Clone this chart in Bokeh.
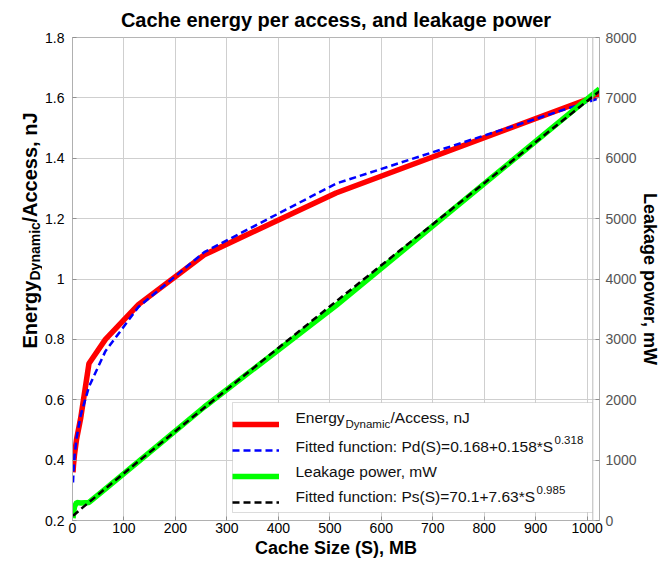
import math
from bokeh.plotting import figure
from bokeh.layouts import row
from bokeh.models import (Range1d, LinearAxis, FixedTicker, NumeralTickFormatter,
                          Legend, LegendItem, Label, Span, BoxAnnotation)
from bokeh.core.properties import value
from bokeh.embed import file_html
from bokeh.resources import INLINE

# ---- data ----
cache_mb = [1, 2, 4, 8, 16, 32, 64, 128, 256, 512, 1024]
energy_nj = [0.36, 0.385, 0.42, 0.47, 0.54, 0.72, 0.80, 0.915, 1.08, 1.285, 1.61]
energy_fit = [0.326, 0.365, 0.414, 0.474, 0.549, 0.643, 0.761, 0.907, 1.089, 1.316, 1.599]
leak_mw = [40, 120, 230, 300, 290, 300, 525, 975, 1880, 3560, 7150]
leak_fit = [78, 85, 100, 129, 187, 302, 529, 978, 1868, 3628, 7111]

x_ticks = [0, 100, 200, 300, 400, 500, 600, 700, 800, 900, 1000]
left_ticks = [0.2, 0.4, 0.6, 0.8, 1.0, 1.2, 1.4, 1.6, 1.8]
right_ticks = [0, 1000, 2000, 3000, 4000, 5000, 6000, 7000, 8000]

title_text = "Cache energy per access, and leakage power"
x_label = "Cache Size (S), MB"
right_label = "Leakage power, mW"

FONT = "Liberation Sans"
GRID = "#cfcfcf"
LEFT_W = 42

p = figure(width=671 - LEFT_W, height=563, output_backend="svg", toolbar_location=None,
           x_range=Range1d(0, 1024), y_range=Range1d(0.2, 1.8),
           min_border_left=72 - LEFT_W, min_border_right=72, min_border_top=35, min_border_bottom=43)
p.extra_y_ranges = {"right": Range1d(0, 8000)}

p.title.text = title_text
p.title.align = "center"
p.title.text_font = FONT
p.title.text_font_size = "20px"
p.title.text_font_style = "bold"
p.title.text_color = "black"
p.title.offset = -LEFT_W / 2
p.title.standoff = 13

p.outline_line_color = "#b5b5b5"
p.background_fill_color = "white"
p.border_fill_color = "white"

# grid
p.xgrid.ticker = FixedTicker(ticks=x_ticks)
p.ygrid.ticker = FixedTicker(ticks=left_ticks)
p.xgrid.grid_line_color = GRID
p.ygrid.grid_line_color = GRID
p.add_layout(Span(location=1011, dimension="height", line_color="#bdbdbd", line_width=1))

def style_axis(ax, label_color="black"):
    ax.axis_line_color = "#b0b0b0"
    ax.major_tick_line_color = "#909090"
    ax.major_tick_in = 4
    ax.major_tick_out = 0
    ax.minor_tick_line_color = None
    ax.major_label_text_font = FONT
    ax.major_label_text_font_size = "14px"
    ax.major_label_text_color = label_color
    ax.axis_label_text_font = FONT
    ax.axis_label_text_font_size = "18px"
    ax.axis_label_text_font_style = "bold"
    ax.axis_label_text_color = "black"

xa = p.xaxis[0]
xa.ticker = FixedTicker(ticks=x_ticks)
xa.axis_label = x_label
xa.axis_label_standoff = 2
xa.major_label_standoff = 2
style_axis(xa)

ya = p.yaxis[0]
ya.ticker = FixedTicker(ticks=left_ticks)
ya.formatter = NumeralTickFormatter(format="0.[0]")
ya.major_label_standoff = 8
style_axis(ya)

ra = LinearAxis(y_range_name="right", ticker=FixedTicker(ticks=right_ticks))
ra.axis_label = right_label
ra.axis_label_standoff = 0
ra.major_label_standoff = 6
style_axis(ra, label_color="#555555")
p.add_layout(ra, "right")

# legend box (frame-relative pixels)
p.add_layout(BoxAnnotation(left=160, right=520, bottom=8, top=118,
                           left_units="screen", right_units="screen",
                           bottom_units="screen", top_units="screen",
                           fill_color="white", fill_alpha=1.0,
                           line_color="#8a8a8a", line_width=1))

# lines
r_red = p.line(cache_mb, energy_nj, line_color="#ff0000", line_width=5.5)
r_blue = p.line(cache_mb, energy_fit, line_color="#0000ff", line_width=2.5, line_dash="7 4")
r_green = p.line(cache_mb, leak_mw, line_color="#00ff00", line_width=5.5, y_range_name="right")
r_black = p.line(cache_mb, leak_fit, line_color="black", line_width=2.5, line_dash="7 4",
                 y_range_name="right")

legend = Legend(items=[LegendItem(label=value(" "), renderers=[r]) for r in (r_red, r_blue, r_green, r_black)],
                location=(160, 8), label_width=287, label_height=20, glyph_width=47, glyph_height=20,
                padding=6, spacing=6, label_standoff=6, margin=0,
                border_line_color=None, background_fill_alpha=0)
p.add_layout(legend)

# ---- texts with subscripts / superscripts ----
def lab(fig, text, x, y, size, style="normal", baseline="middle", angle=0.0, color="#111111"):
    fig.add_layout(Label(text=text, x=x, y=y, x_units="screen", y_units="screen",
                         text_font=FONT, text_font_size=f"{size}px", text_font_style=style,
                         text_baseline=baseline, text_align="left", angle=angle,
                         text_color=color, level="overlay"))

# legend texts (frame-relative pixels)
LX = 223
LS = 15.5
SS = 11.5
lab(p, "Energy", LX, 103, LS)
lab(p, "Dynamic", LX + 50, 97, SS)
lab(p, "/Access, nJ", LX + 95, 103, LS)
lab(p, "Fitted function: Pd(S)=0.168+0.158*S", LX, 74, LS)
lab(p, "0.318", LX + 259, 81, SS)
lab(p, "Leakage power, mW", LX, 49, LS)
lab(p, "Fitted function: Ps(S)=70.1+7.63*S", LX, 24, LS)
lab(p, "0.985", LX + 241, 31, SS)

# left strip carrying the rotated y-axis title with its subscript
q = figure(width=LEFT_W, height=563, output_backend="svg", toolbar_location=None,
           x_axis_type=None, y_axis_type=None, min_border=0,
           x_range=Range1d(0, 1), y_range=Range1d(0, 1))
q.outline_line_color = None
q.xgrid.visible = False
q.ygrid.visible = False
A = math.pi / 2
lab(q, "Energy", 29, 172, 20, style="bold", baseline="alphabetic", angle=A, color="black")
lab(q, "Dynamic", 34, 240, 14, style="bold", baseline="alphabetic", angle=A, color="black")
lab(q, "/Access, nJ", 29, 298, 20, style="bold", baseline="alphabetic", angle=A, color="black")

open("out.html", "w").write(file_html(row(q, p), INLINE))
